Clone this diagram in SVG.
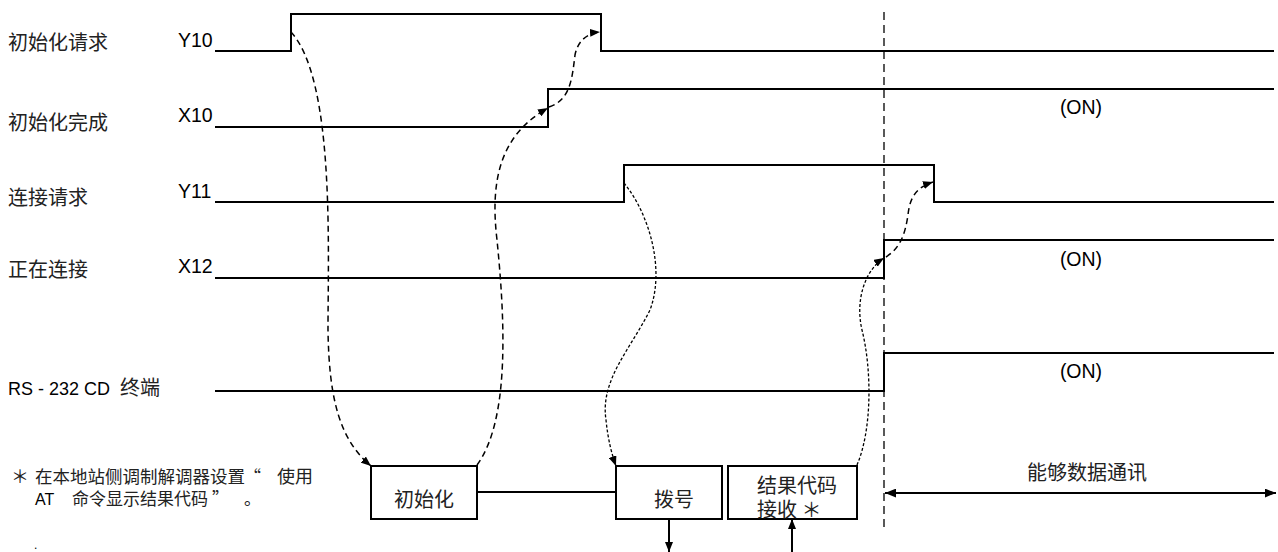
<svg xmlns="http://www.w3.org/2000/svg" width="1278" height="552" viewBox="0 0 1278 552">
<style>
.sig{fill:none;stroke:#000;stroke-width:2}
.box{fill:#fff;stroke:#000;stroke-width:2}
.cj{font-family:"Noto Sans CJK SC","Noto Sans",sans-serif;font-size:20px;fill:#222}
.nt{font-family:"Noto Sans CJK SC","Noto Sans",sans-serif;font-size:17px;fill:#222}
.lt{font-family:"Liberation Sans",Arial,sans-serif;font-size:19.5px;fill:#000}
.dash{fill:none;stroke:#000;stroke-width:1.5;stroke-dasharray:6 4}
.dot{fill:none;stroke:#000;stroke-width:1.3;stroke-dasharray:3 2}
.ln{fill:none;stroke:#000;stroke-width:2}
</style>
<defs>
<marker id="ah" viewBox="0 0 10 8" refX="10" refY="4" markerWidth="10" markerHeight="8" markerUnits="userSpaceOnUse" orient="auto"><path d="M0,0 L10,4 L0,8 z" fill="#000"/></marker>
<marker id="ah2" viewBox="0 0 10 8" refX="10" refY="4" markerWidth="11" markerHeight="9" markerUnits="userSpaceOnUse" orient="auto-start-reverse"><path d="M0,0 L10,4 L0,8 z" fill="#000"/></marker>
</defs>
<rect width="1278" height="552" fill="#fff"/>

<g id="sig-y10">
<text class="cj" x="8" y="50">初始化请求</text>
<text class="lt" x="178" y="47">Y10</text>
<path class="sig" d="M215,51 H291 V14 H601 V51 H1274"/>
</g>
<g id="sig-x10">
<text class="cj" x="8" y="130">初始化完成</text>
<text class="lt" x="178" y="122">X10</text>
<path class="sig" d="M215,127 H548 V89 H1274"/>
<text class="lt" x="1081" y="114" text-anchor="middle">(ON)</text>
</g>
<g id="sig-y11">
<text class="cj" x="8" y="205">连接请求</text>
<text class="lt" x="178" y="198">Y11</text>
<path class="sig" d="M215,202 H624 V165 H934 V202 H1274"/>
</g>
<g id="sig-x12">
<text class="cj" x="8" y="277">正在连接</text>
<text class="lt" x="178" y="273">X12</text>
<path class="sig" d="M215,278 H884 V240 H1274"/>
<text class="lt" x="1081" y="266" text-anchor="middle">(ON)</text>
</g>
<g id="sig-rs232">
<text class="lt" x="8" y="395" style="font-size:18px">RS - 232 CD <tspan class="cj" dx="5">终端</tspan></text>
<path class="sig" d="M215,391 H884 V353 H1274"/>
<text class="lt" x="1081" y="378" text-anchor="middle">(ON)</text>
</g>

<g id="note">
<text class="nt"><tspan x="11" y="483" style="font-size:18px">＊</tspan><tspan x="35" y="483" style="font-size:17.5px">在本地站侧调制解调器设置</tspan><tspan x="244" y="483">“</tspan><tspan x="277" y="483" style="font-size:18px">使用</tspan></text>
<text class="nt"><tspan class="lt" x="35" y="505" style="font-size:16px">AT</tspan><tspan x="72" y="505">命令显示结果代码</tspan><tspan x="212" y="505">”</tspan><tspan x="244" y="505">。</tspan></text>
<text class="lt" x="34" y="549" style="font-size:12px">.</text>
</g>

<g id="box-init">
<rect class="box" x="371" y="466" width="106" height="53"/>
<text class="cj" x="424" y="507" text-anchor="middle">初始化</text>
</g>
<g id="box-dial">
<rect class="box" x="616" y="466" width="106" height="53"/>
<text class="cj" x="674" y="507" text-anchor="middle">拨号</text>
</g>
<g id="box-result">
<rect class="box" x="728" y="466" width="129" height="53"/>
<text class="cj"><tspan x="757" y="493">结果代码</tspan><tspan x="757" y="517">接收 ＊</tspan></text>
</g>
<g id="span-comm">
<text class="cj" x="1087" y="480" text-anchor="middle">能够数据通讯</text>
</g>

<g id="connectors">
<path d="M884,12 V528" fill="none" stroke="#000" stroke-width="1.3" stroke-dasharray="8 5"/>
<path class="ln" d="M477,492 H616"/>
<path class="ln" d="M669,519 V552" marker-end="url(#ah)"/>
<path class="ln" d="M792,552 V519" marker-end="url(#ah)"/>
<path class="ln" d="M885,493 H1276" marker-start="url(#ah2)" marker-end="url(#ah2)"/>
<path class="dash" d="M291,32 C335,80 328,250 328,330 C329,400 340,440 371,466" marker-end="url(#ah)"/>
<path class="dash" d="M477,465 C510,420 505,320 497,240 C490,180 500,135 548,108" marker-end="url(#ah)"/>
<path class="dash" d="M549,107 C570,100 572,80 575,55 C578,40 588,33 600,32" marker-end="url(#ah)"/>
<path class="dot" d="M624,183 C650,215 665,270 650,310 C630,350 600,380 606,420 C608,440 612,455 616,466" marker-end="url(#ah)"/>
<path class="dot" d="M857,465 C872,430 872,370 862,330 C855,300 865,270 884,258" marker-end="url(#ah)"/>
<path class="dash" d="M886,257 C900,248 905,235 908,215 C910,195 918,187 933,182" marker-end="url(#ah)"/>
</g>
</svg>
